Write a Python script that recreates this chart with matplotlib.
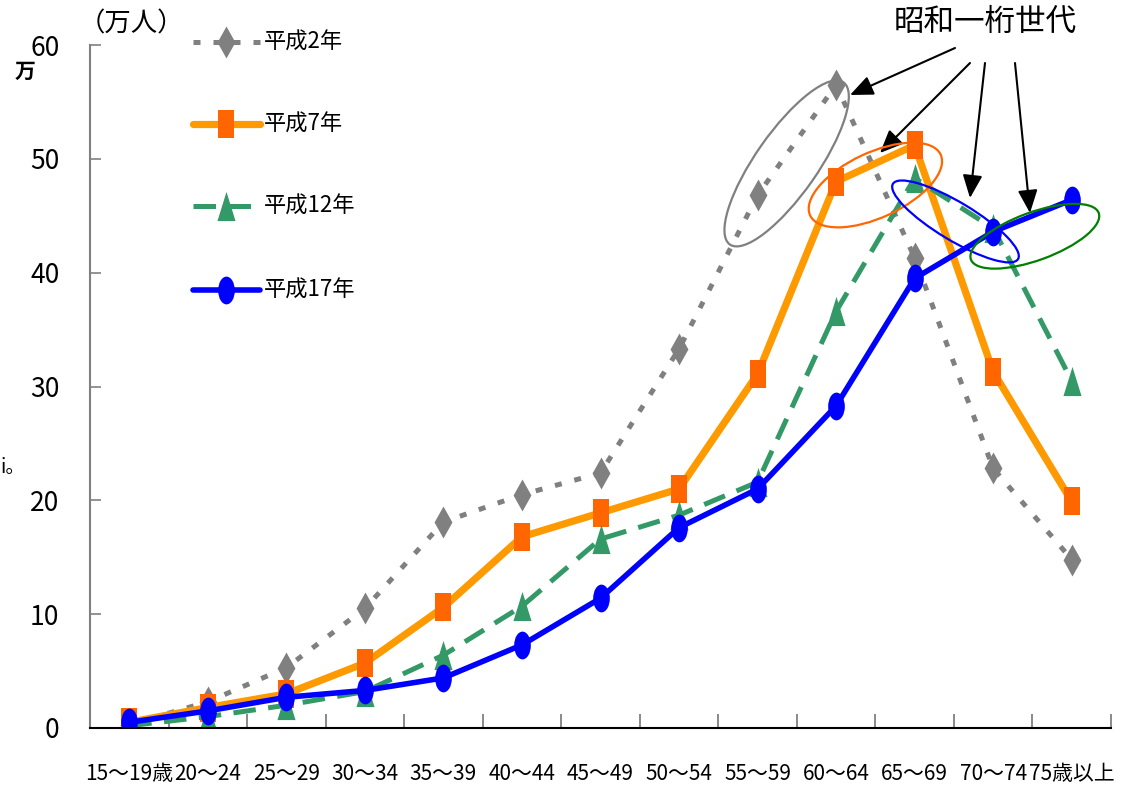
import matplotlib
matplotlib.use("Agg")
import matplotlib.pyplot as plt
import numpy as np
from matplotlib.path import Path
from matplotlib.patches import Ellipse
from matplotlib.lines import Line2D
from matplotlib.transforms import IdentityTransform, Affine2D

# age groups and numbers of people (10,000 persons)
ages = ['15～19歳', '20～24', '25～29', '30～34', '35～39', '40～44', '45～49',
        '50～54', '55～59', '60～64', '65～69', '70～74', '75歳以上']
h2 = [0.3, 2.3, 5.3, 10.5, 18.1, 20.5, 22.4, 33.3, 46.8, 56.5, 41.3, 22.8, 14.8]
h7 = [0.5, 1.8, 3.0, 5.7, 10.6, 16.8, 18.9, 21.0, 31.1, 48.0, 51.2, 31.3, 19.9]
h12 = [0.2, 1.0, 2.0, 3.2, 6.4, 10.7, 16.6, 18.7, 21.6, 36.6, 48.3, 43.9, 30.5]
h17 = [0.5, 1.5, 2.7, 3.3, 4.4, 7.3, 11.4, 17.6, 21.0, 28.3, 39.5, 43.6, 46.4]
series_labels = ['平成2年', '平成7年', '平成12年', '平成17年']
note = '昭和一桁世代'

plt.rcParams['font.family'] = ['Noto Sans CJK JP', 'DejaVu Sans']

# markers squeezed sideways like the original picture
ell = Path.unit_circle().transformed(Affine2D().scale(0.6, 1.0))
sq = Path([(-0.3, -0.5), (0.3, -0.5), (0.3, 0.5), (-0.3, 0.5), (-0.3, -0.5)], closed=True)
dia = Path([(0, 0.5), (0.28, 0), (0, -0.5), (-0.28, 0), (0, 0.5)], closed=True)
tri = Path([(0, 0.5), (0.31, -0.5), (-0.31, -0.5), (0, 0.5)], closed=True)

W, H = 1133, 792
fig = plt.figure(figsize=(W / 100, H / 100), dpi=100)
ax = fig.add_axes([90 / W, 64 / H, 1021 / W, 683 / H])
x = np.arange(len(ages))

styles = [
    dict(color='#808080', lw=3.6, ls=(0, (1.4, 2.6)), marker=dia, ms=23, mfc='#808080'),
    dict(color='#FF9900', lw=5.2, ls='-', marker=sq, ms=20, mfc='#FF6600'),
    dict(color='#339966', lw=3.6, ls=(0, (4.5, 2.5)), marker=tri, ms=21, mfc='#339966'),
    dict(color='#0000FF', lw=4.0, ls='-', marker=ell, ms=20, mfc='#0000FF'),
]
for vals, st in zip([h2, h7, h12, h17], styles):
    ax.plot(x, vals, color=st['color'], lw=st['lw'], ls=st['ls'], marker=st['marker'],
            ms=st['ms'], mfc=st['mfc'], mec=st['mfc'], mew=0, dash_capstyle='butt')

ax.set_xlim(-0.5, 12.5)
ax.set_ylim(0, 60)
ax.set_xticks(x)
ax.set_xticklabels(ages, fontsize=15)
ax.set_xticks(np.arange(-0.5, 13, 1), minor=True)
ax.tick_params(axis='x', which='major', length=0, pad=25)
ax.tick_params(axis='x', which='minor', direction='in', length=10, width=1.3, color='#808080')
ax.set_yticks(range(0, 61, 10))
ax.tick_params(axis='y', direction='in', length=8, width=1.2, color='#808080', pad=22, labelsize=19)
for s in ['top', 'right']:
    ax.spines[s].set_visible(False)
ax.spines['left'].set_color('#808080')
ax.spines['left'].set_linewidth(1.5)
ax.spines['bottom'].set_color('black')
ax.spines['bottom'].set_linewidth(1.5)

# legend drawn by hand (wide spacing like the original)
leg_y = [42, 124, 206, 290]
for lab, st, ly in zip(series_labels, styles, leg_y):
    yy = 1 - ly / H
    ln = Line2D([193 / W, 226 / W, 260 / W], [yy, yy, yy], transform=fig.transFigure,
                color=st['color'], lw=st['lw'], ls=st['ls'], marker=st['marker'], ms=st['ms'],
                mfc=st['mfc'], mec=st['mfc'], mew=0, markevery=[1], solid_capstyle='round')
    fig.add_artist(ln)
    fig.text(264 / W, yy, lab, fontsize=16, va='center', ha='left')

fig.text(131 / W, 1 - 24 / H, '（万人）', fontsize=19, ha='center', va='center')
fig.text(25 / W, 1 - 71 / H, '万', fontsize=15, fontweight='bold', ha='center', va='center')
fig.text(1 / W, 1 - 467 / H, 'i。', fontsize=14, ha='left', va='center')

# ellipses around the generation born in Showa 1-9
ell_specs = [  # (x, y) data centre, width px, height px, angle, colour
    ((8.37, 49.6), 198, 62, 55, '#808080'),
    ((9.5, 47.7), 144, 65, 25, '#FF6600'),
    ((10.52, 44.5), 146, 38, -31, '#0000FF'),
    ((11.53, 43.2), 136, 48, 20, '#008000'),
]
for c, w, h, a, col in ell_specs:
    cx, cy = ax.transData.transform(c)
    e = Ellipse((cx, cy), w, h, angle=a, transform=IdentityTransform(),
                fill=False, ec=col, lw=1.6)
    fig.add_artist(e)

fig.text(985 / W, 1 - 22 / H, note, fontsize=22, ha='center', va='center')
arrows = [((955, 48), (850, 95)), ((970, 63), (880, 153)),
          ((985, 63), (970, 198)), ((1015, 63), (1030, 213))]
for (tx, ty), (hx, hy) in arrows:
    ax.annotate('', xy=(hx, H - hy), xytext=(tx, H - ty), xycoords='figure pixels',
                textcoords='figure pixels',
                arrowprops=dict(arrowstyle='-|>,head_length=0.7,head_width=0.3',
                                mutation_scale=20, color='black', lw=1.5,
                                shrinkA=0, shrinkB=0))

fig.savefig('out.png', dpi=100)
